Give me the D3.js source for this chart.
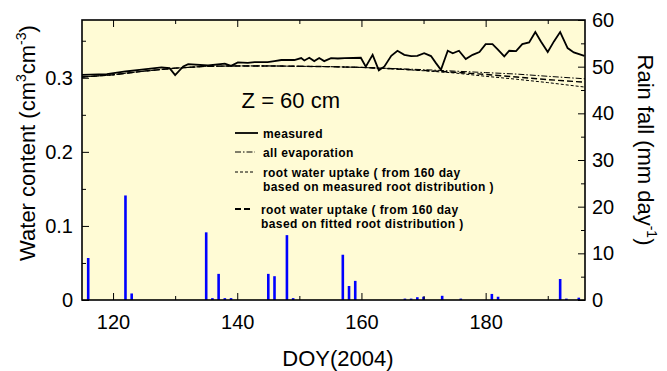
<!DOCTYPE html>
<html>
<head>
<meta charset="utf-8">
<script src="https://cdn.jsdelivr.net/npm/d3@7"></script>
<style>
  body { margin: 0; background: #fff; }
  text { font-family: "Liberation Sans", Arial, sans-serif; fill: #000; }
</style>
</head>
<body>
<script>
// chart data
var measuredDays = [115, 119, 122, 124.6, 127.8, 129.1, 130, 131.3, 132.1, 135.3, 138, 139, 140.1, 141.7, 142.8, 144.9, 146, 147.1, 149.2, 150.3, 150.8, 151.6, 152.4, 153.2, 154, 155.1, 156.2, 157.3, 159.9, 160.7, 161.8, 162.8, 163.7, 164.8, 165.8, 166.9, 168, 169, 170.1, 171.2, 172, 172.8, 173.9, 174.7, 175.7, 176.8, 177.9, 179, 180, 181.1, 181.9, 183, 183.8, 184.9, 185.9, 187, 188, 188.9, 190, 191, 192, 193.2, 194.2, 195.9];
var measuredTheta = [0.304, 0.305, 0.3085, 0.311, 0.314, 0.313, 0.3036, 0.3153, 0.3184, 0.3166, 0.319, 0.316, 0.3207, 0.320, 0.321, 0.321, 0.3225, 0.324, 0.324, 0.3266, 0.3234, 0.327, 0.3225, 0.3266, 0.3225, 0.3266, 0.326, 0.3266, 0.327, 0.315, 0.331, 0.31, 0.3153, 0.3297, 0.3365, 0.331, 0.3293, 0.3297, 0.3333, 0.3293, 0.3198, 0.3108, 0.3365, 0.333, 0.3365, 0.3252, 0.331, 0.3347, 0.3455, 0.3455, 0.3387, 0.3288, 0.3365, 0.336, 0.3455, 0.3477, 0.3617, 0.3491, 0.3347, 0.3491, 0.3617, 0.3401, 0.3342, 0.3297];

var simDays = [115, 120, 125, 130, 135, 140, 145, 150, 155, 160, 165, 170, 175, 180, 185, 190, 196];
var allEvaporation = [0.301, 0.304, 0.309, 0.313, 0.3155, 0.316, 0.316, 0.3155, 0.315, 0.314, 0.3125, 0.311, 0.309, 0.307, 0.305, 0.302, 0.2986];
var uptakeMeasuredRoot = [0.301, 0.304, 0.309, 0.313, 0.3155, 0.316, 0.316, 0.3155, 0.315, 0.314, 0.312, 0.3095, 0.3065, 0.302, 0.298, 0.2935, 0.2874];
var uptakeFittedRoot = [0.301, 0.304, 0.309, 0.313, 0.3155, 0.316, 0.316, 0.3155, 0.315, 0.314, 0.3122, 0.310, 0.3075, 0.3045, 0.301, 0.2975, 0.294];

var rainDays = [116, 122, 123, 135, 136, 137, 138, 139, 145, 146, 148, 149, 157, 158, 159, 167, 168, 169, 170, 173, 176, 181, 182, 192, 193, 195];
var rainMm = [9, 22.4, 1.4, 14.5, 0.4, 5.6, 0.4, 0.4, 5.6, 5.1, 13.9, 0.4, 9.7, 3, 4.1, 0.3, 0.3, 0.6, 0.7, 0.9, 0.3, 1.3, 0.7, 4.5, 0.3, 0.5];

var xMajor = [120, 140, 160, 180];
var xMinor = [130, 150, 170, 190];
var leftMajor = [0, 0.1, 0.2, 0.3];
var leftMinor = [0.05, 0.15, 0.25, 0.35];
var rightMajor = [0, 10, 20, 30, 40, 50, 60];
var rightMinor = [5, 15, 25, 35, 45, 55];

var width = 667,
	height = 371,
	margin = {top: 20, right: 82, bottom: 71, left: 82},
	plotW = width - margin.left - margin.right,
	plotH = height - margin.top - margin.bottom;

var svg = d3.select("body")
	.append("svg")
	.attr("width", width)
	.attr("height", height);

var g = svg.append("g")
	.attr("transform", "translate(" + margin.left + "," + margin.top + ")");

var x = d3.scaleLinear().domain([115, 196]).range([0, plotW]);
var yLeft = d3.scaleLinear().domain([0, 0.378]).range([plotH, 0]);
var yRight = d3.scaleLinear().domain([0, 60]).range([plotH, 0]);

// plot background
g.append("rect")
	.attr("width", plotW)
	.attr("height", plotH)
	.attr("fill", "#fffbd5");

g.append("clipPath").attr("id", "clip")
	.append("rect").attr("width", plotW).attr("height", plotH);

// rain bars
g.append("g").attr("clip-path", "url(#clip)")
	.selectAll("rect")
	.data(rainDays)
	.enter().append("rect")
	.attr("x", function(d) { return x(d) - 1.3; })
	.attr("width", 2.6)
	.attr("y", function(d, i) { return yRight(rainMm[i]); })
	.attr("height", function(d, i) { return plotH - yRight(rainMm[i]); })
	.attr("fill", "#0000ff");

// water content lines
var simLine = d3.line()
	.x(function(d) { return x(d[0]); })
	.y(function(d) { return yLeft(d[1]); });

var lines = g.append("g").attr("clip-path", "url(#clip)");

lines.append("path")
	.datum(d3.zip(simDays, allEvaporation))
	.attr("d", simLine)
	.attr("fill", "none")
	.attr("stroke", "#000")
	.attr("stroke-width", 1)
	.attr("stroke-dasharray", "6,2,1.5,2");

lines.append("path")
	.datum(d3.zip(simDays, uptakeMeasuredRoot))
	.attr("d", simLine)
	.attr("fill", "none")
	.attr("stroke", "#000")
	.attr("stroke-width", 1)
	.attr("stroke-dasharray", "3,2");

lines.append("path")
	.datum(d3.zip(simDays, uptakeFittedRoot))
	.attr("d", simLine)
	.attr("fill", "none")
	.attr("stroke", "#000")
	.attr("stroke-width", 1.4)
	.attr("stroke-dasharray", "6,3");

lines.append("path")
	.datum(d3.zip(measuredDays, measuredTheta))
	.attr("d", simLine)
	.attr("fill", "none")
	.attr("stroke", "#000")
	.attr("stroke-width", 1.8)
	.attr("stroke-linejoin", "miter");

// axes, ticks point inward
function styleAxis(sel) {
	sel.select(".domain").remove();
	sel.selectAll("line").attr("stroke", "#000").attr("stroke-width", 1);
	sel.selectAll("text").style("font-size", "20px").attr("fill", "#000");
}

g.append("g").attr("transform", "translate(0," + plotH + ")")
	.call(d3.axisBottom(x).tickValues(xMajor).tickSize(-7).tickPadding(15).tickFormat(d3.format("d")))
	.call(styleAxis);
g.append("g").attr("transform", "translate(0," + plotH + ")")
	.call(d3.axisBottom(x).tickValues(xMinor).tickSize(-4).tickFormat(""))
	.call(styleAxis);
g.append("g")
	.call(d3.axisTop(x).tickValues(xMajor).tickSize(-7).tickFormat(""))
	.call(styleAxis);
g.append("g")
	.call(d3.axisTop(x).tickValues(xMinor).tickSize(-4).tickFormat(""))
	.call(styleAxis);

g.append("g")
	.call(d3.axisLeft(yLeft).tickValues(leftMajor).tickSize(-7).tickPadding(9)
		.tickFormat(function(d) { return d === 0 ? "0" : d3.format(".1f")(d); }))
	.call(styleAxis);
g.append("g")
	.call(d3.axisLeft(yLeft).tickValues(leftMinor).tickSize(-4).tickFormat(""))
	.call(styleAxis);

g.append("g").attr("transform", "translate(" + plotW + ",0)")
	.call(d3.axisRight(yRight).tickValues(rightMajor).tickSize(-7).tickPadding(7).tickFormat(d3.format("d")))
	.call(styleAxis);
g.append("g").attr("transform", "translate(" + plotW + ",0)")
	.call(d3.axisRight(yRight).tickValues(rightMinor).tickSize(-4).tickFormat(""))
	.call(styleAxis);

// frame
g.append("rect")
	.attr("width", plotW)
	.attr("height", plotH)
	.attr("fill", "none")
	.attr("stroke", "#000")
	.attr("stroke-width", 1.6);

// axis titles
svg.append("text")
	.attr("x", 338)
	.attr("y", 366)
	.attr("text-anchor", "middle")
	.style("font-size", "22px")
	.text("DOY(2004)");

var leftTitle = svg.append("text")
	.attr("transform", "translate(35,143) rotate(-90)")
	.attr("text-anchor", "middle")
	.style("font-size", "22px");
leftTitle.append("tspan").text("Water content (cm");
leftTitle.append("tspan").attr("dy", -9).style("font-size", "14px").text("3");
leftTitle.append("tspan").attr("dy", 9).text("cm");
leftTitle.append("tspan").attr("dy", -9).style("font-size", "14px").text("-3");
leftTitle.append("tspan").attr("dy", 9).text(")");

var rightTitle = svg.append("text")
	.attr("transform", "translate(638,150) rotate(90)")
	.attr("text-anchor", "middle")
	.style("font-size", "22px");
rightTitle.append("tspan").text("Rain fall (mm day");
rightTitle.append("tspan").attr("dy", -9).style("font-size", "14px").text("-1");
rightTitle.append("tspan").attr("dy", 9).text(")");

// depth label
g.append("text")
	.attr("x", x(140.7))
	.attr("y", yLeft(0.2597))
	.style("font-size", "22px")
	.text("Z = 60 cm");

// legend
var legendItems = [
	{label: ["measured"], dash: null, w: 1.8, x2: 258},
	{label: ["all evaporation"], dash: "6,2,1.5,2", w: 1, x2: 255},
	{label: ["root water uptake ( from 160 day", "based on measured root distribution )"], dash: "3,2", w: 1, x2: 255},
	{label: ["root water uptake ( from 160 day", "based on fitted root distribution )"], dash: "6,3", w: 2, x2: 253}
];
var legendY = [133, 152, 172, 209];
var legendTextX = [263, 263, 263, 261];

legendItems.forEach(function(item, i) {
	svg.append("line")
		.attr("x1", 235)
		.attr("x2", item.x2)
		.attr("y1", legendY[i])
		.attr("y2", legendY[i])
		.attr("stroke", "#000")
		.attr("stroke-width", item.w)
		.attr("stroke-dasharray", item.dash);
	item.label.forEach(function(t, j) {
		svg.append("text")
			.attr("x", legendTextX[i])
			.attr("y", legendY[i] + 4.5 + j * 14.5)
			.style("font-size", "12px")
			.style("font-weight", "bold")
			.style("letter-spacing", "0.4px")
			.text(t);
	});
});
</script>
</body>
</html>
